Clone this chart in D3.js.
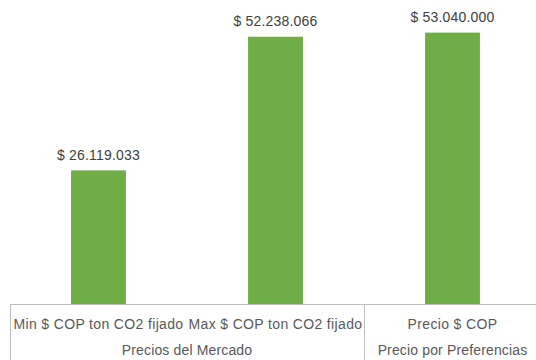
<!DOCTYPE html>
<html>
<head>
<meta charset="utf-8">
<script src="https://cdn.jsdelivr.net/npm/d3@7"></script>
<style>
  html, body { margin: 0; padding: 0; background: #fff; }
  svg { display: block; }
  text { font-family: "Liberation Sans", Arial, sans-serif; fill: #595959; }
</style>
</head>
<body>
<svg id="chart" width="536" height="360"></svg>
<script>
const categories = ["Min $ COP ton CO2 fijado", "Max $ COP ton CO2 fijado", "Precio $ COP"];
const groups = ["Precios del Mercado", "Precios del Mercado", "Precio por Preferencias"];
const values = [26119033, 52238066, 53040000];
const valueLabels = ["$ 26.119.033", "$ 52.238.066", "$ 53.040.000"];

const svg = d3.select("#chart");
const baseY = 304;
const x = d3.scaleBand().domain(d3.range(categories.length)).range([10, 541]).padding(0);
const y = d3.scaleLinear().domain([0, 60000000]).range([baseY, -3]);
const barW = x.bandwidth() * 0.31;

svg.selectAll("rect.bar").data(values).join("rect")
  .attr("class", "bar")
  .attr("x", (d, i) => x(i) + x.bandwidth() / 2 - barW / 2)
  .attr("width", barW)
  .attr("y", d => y(d))
  .attr("height", d => baseY - y(d))
  .attr("fill", "#70AD47");

svg.selectAll("text.val").data(values).join("text")
  .attr("class", "val")
  .attr("x", (d, i) => x(i) + x.bandwidth() / 2)
  .attr("y", d => y(d) - 10.5)
  .attr("text-anchor", "middle")
  .style("font-size", "14px")
  .style("letter-spacing", "0.2px")
  .style("fill", "#404040")
  .text((d, i) => valueLabels[i]);

// axis lines
const axisColor = "#bfbfbf";
svg.append("line").attr("x1", 10.5).attr("x2", 536).attr("y1", baseY + 0.5).attr("y2", baseY + 0.5)
  .attr("stroke", axisColor).attr("stroke-width", 1);

// group boundaries
const groupNames = [];
groups.forEach((g, i) => {
  if (!groupNames.length || groupNames[groupNames.length - 1].name !== g) groupNames.push({ name: g, start: i, end: i });
  else groupNames[groupNames.length - 1].end = i;
});
const bounds = [x(0)].concat(groupNames.map(g => x(g.end) + x.bandwidth()));
svg.selectAll("line.sep").data(bounds.filter(b => b < 536)).join("line")
  .attr("class", "sep")
  .attr("x1", d => Math.round(d) + 0.5).attr("x2", d => Math.round(d) + 0.5)
  .attr("y1", baseY).attr("y2", 360)
  .attr("stroke", axisColor).attr("stroke-width", 1);

svg.selectAll("text.cat").data(categories).join("text")
  .attr("class", "cat")
  .attr("x", (d, i) => x(i) + x.bandwidth() / 2)
  .attr("y", 328.5)
  .attr("text-anchor", "middle")
  .style("font-size", "14px")
  .style("letter-spacing", "0.35px")
  .text(d => d);

svg.selectAll("text.grp").data(groupNames).join("text")
  .attr("class", "grp")
  .attr("x", g => (x(g.start) + x(g.end) + x.bandwidth()) / 2)
  .attr("y", 354.5)
  .attr("text-anchor", "middle")
  .style("font-size", "14px")
  .style("letter-spacing", "0.15px")
  .text(g => g.name);
</script>
</body>
</html>
